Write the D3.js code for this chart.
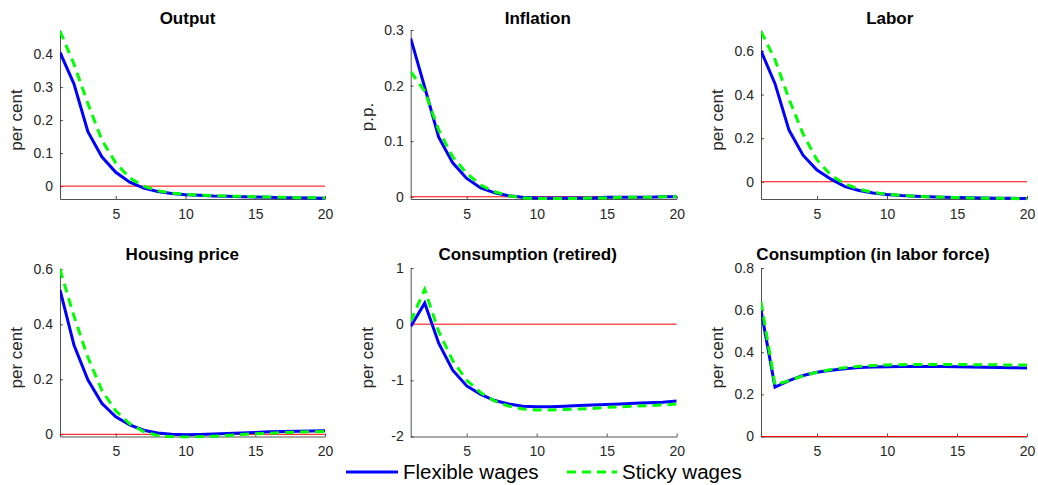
<!DOCTYPE html>
<html>
<head>
<meta charset="utf-8">
<script src="https://cdn.jsdelivr.net/npm/d3@7"></script>
<style>
  body { margin: 0; background: #fff; }
  text { font-family: "Liberation Sans", Arial, sans-serif; }
</style>
</head>
<body>
<div id="chart"></div>
<script>
// periods on the x axis
const periods = [1, 2, 3, 4, 5, 6, 7, 8, 9, 10, 11, 12, 13, 14, 15, 16, 17, 18, 19, 20];
const xTicks = [5, 10, 15, 20];

const titles = ["Output", "Inflation", "Labor", "Housing price", "Consumption (retired)", "Consumption (in labor force)"];
const units = ["per cent", "p.p.", "per cent", "per cent", "per cent", "per cent"];
const seriesNames = ["Flexible wages", "Sticky wages"];

const outputFlex = [0.405, 0.31, 0.165, 0.089, 0.042, 0.012, -0.006, -0.016, -0.022, -0.026, -0.028, -0.03, -0.031, -0.032, -0.033, -0.034, -0.035, -0.035, -0.036, -0.037];
const outputSticky = [0.47, 0.37, 0.25, 0.14, 0.07, 0.025, 0.0, -0.014, -0.021, -0.025, -0.027, -0.029, -0.03, -0.031, -0.032, -0.033, -0.034, -0.035, -0.035, -0.036];

const inflationFlex = [0.285, 0.197, 0.107, 0.061, 0.033, 0.016, 0.007, 0.002, -0.001, -0.002, -0.002, -0.002, -0.002, -0.002, -0.001, -0.001, -0.001, -0.001, 0, 0];
const inflationSticky = [0.225, 0.19, 0.12, 0.072, 0.042, 0.021, 0.009, 0.002, -0.002, -0.003, -0.003, -0.003, -0.003, -0.002, -0.002, -0.001, -0.001, -0.001, 0, 0];

const laborFlex = [0.6, 0.45, 0.237, 0.122, 0.054, 0.012, -0.022, -0.04, -0.051, -0.058, -0.063, -0.066, -0.069, -0.071, -0.072, -0.073, -0.074, -0.075, -0.076, -0.077];
const laborSticky = [0.69, 0.56, 0.38, 0.22, 0.1, 0.03, -0.01, -0.034, -0.049, -0.057, -0.062, -0.066, -0.069, -0.071, -0.072, -0.074, -0.075, -0.076, -0.077, -0.078];

const housingFlex = [0.525, 0.325, 0.198, 0.113, 0.064, 0.034, 0.015, 0.005, 0.0, -0.002, -0.001, 0.001, 0.003, 0.005, 0.007, 0.009, 0.01, 0.011, 0.012, 0.013];
const housingSticky = [0.6, 0.43, 0.28, 0.16, 0.085, 0.038, 0.01, -0.004, -0.009, -0.01, -0.009, -0.007, -0.004, -0.001, 0.002, 0.004, 0.006, 0.008, 0.009, 0.01];

const retiredFlex = [-0.04, 0.375, -0.34, -0.82, -1.1, -1.25, -1.36, -1.42, -1.46, -1.47, -1.47, -1.46, -1.45, -1.44, -1.43, -1.42, -1.41, -1.4, -1.39, -1.37];
const retiredSticky = [0.05, 0.62, -0.13, -0.65, -1.0, -1.22, -1.37, -1.46, -1.51, -1.53, -1.53, -1.52, -1.51, -1.5, -1.48, -1.47, -1.46, -1.45, -1.44, -1.42];

const laborForceFlex = [0.6, 0.235, 0.265, 0.29, 0.305, 0.315, 0.322, 0.327, 0.33, 0.331, 0.332, 0.332, 0.332, 0.332, 0.331, 0.33, 0.329, 0.328, 0.327, 0.325];
const laborForceSticky = [0.64, 0.245, 0.265, 0.288, 0.305, 0.318, 0.327, 0.333, 0.337, 0.34, 0.341, 0.342, 0.342, 0.342, 0.342, 0.341, 0.341, 0.34, 0.34, 0.34];

const yDomains = [[-0.039, 0.473], [-0.004, 0.3], [-0.079, 0.696], [-0.008, 0.605], [-2, 1], [0, 0.8]];
const yTicks = [
    [0, 0.1, 0.2, 0.3, 0.4],
    [0, 0.1, 0.2, 0.3],
    [0, 0.2, 0.4, 0.6],
    [0, 0.2, 0.4, 0.6],
    [-2, -1, 0, 1],
    [0, 0.2, 0.4, 0.6, 0.8]
];

const flexSeries = [outputFlex, inflationFlex, laborFlex, housingFlex, retiredFlex, laborForceFlex];
const stickySeries = [outputSticky, inflationSticky, laborSticky, housingSticky, retiredSticky, laborForceSticky];

const width = 1038, height = 485;
const colX = [[60, 325], [410.7, 676.7], [761, 1027]];
const rowY = [[30, 199], [268, 436.5]];
const axisColor = "#262626";

const svg = d3.select("#chart")
    .append("svg")
    .attr("width", width)
    .attr("height", height);

const line = (x, y) => d3.line()
    .x((d, i) => x(periods[i]))
    .y(d => y(d));

// the original's centred texts sit a little towards their start
const nudge = sel => sel.attr("dx", function () { return -0.09 * this.getComputedTextLength(); });

titles.forEach((title, k) => {
    const col = k % 3, row = Math.floor(k / 3);
    const [x0, x1] = colX[col], [y0, y1] = rowY[row];

    const x = d3.scaleLinear().domain([1, 20]).range([x0, x1]);
    const y = d3.scaleLinear().domain(yDomains[k]).range([y1, y0]);

    const g = svg.append("g");

    g.append("clipPath")
        .attr("id", "clip" + k)
        .append("rect")
        .attr("x", x0).attr("y", y0 - 2)
        .attr("width", x1 - x0).attr("height", y1 - y0 + 4);

    // x axis
    const xa = g.append("g")
        .attr("transform", "translate(0," + y1 + ")")
        .call(d3.axisBottom(x).tickValues(xTicks).tickSizeInner(-3).tickSizeOuter(0).tickPadding(10));
    // y axis
    const ya = g.append("g")
        .attr("transform", "translate(" + x0 + ",0)")
        .call(d3.axisLeft(y).tickValues(yTicks[k]).tickFormat(d => String(d)).tickSizeInner(-3).tickSizeOuter(0).tickPadding(7));

    [xa, ya].forEach(a => {
        a.select(".domain").attr("stroke", axisColor).attr("stroke-width", 0.8);
        a.selectAll(".tick line").attr("stroke", axisColor).attr("stroke-width", 0.8);
        a.selectAll("text").attr("fill", axisColor).style("font-size", "14px");
    });

    // zero line
    g.append("line")
        .attr("x1", x0).attr("x2", x1)
        .attr("y1", y(0)).attr("y2", y(0))
        .attr("stroke", "#ff0000")
        .attr("stroke-width", 1);

    const lines = g.append("g").attr("clip-path", "url(#clip" + k + ")");

    lines.append("path")
        .datum(flexSeries[k])
        .attr("d", line(x, y))
        .attr("fill", "none")
        .attr("stroke", "#0000ff")
        .attr("stroke-width", 3);

    lines.append("path")
        .datum(stickySeries[k])
        .attr("d", line(x, y))
        .attr("fill", "none")
        .attr("stroke", "#00ff00")
        .attr("stroke-width", 3)
        .attr("stroke-dasharray", "9,6");

    g.append("text")
        .attr("x", (x0 + x1) / 2)
        .attr("y", row === 0 ? 23.5 : 260)
        .attr("text-anchor", "middle")
        .style("font-size", "17px")
        .style("font-weight", "bold")
        .text(title)
        .call(nudge);

    g.append("text")
        .attr("transform", "translate(" + (x0 - 38) + "," + ((y0 + y1) / 2) + ")rotate(-90)")
        .attr("text-anchor", "middle")
        .style("font-size", "17px")
        .attr("fill", axisColor)
        .text(units[k])
        .call(nudge);
});

// legend
const legend = svg.append("g");
legend.append("line")
    .attr("x1", 346).attr("x2", 398).attr("y1", 472).attr("y2", 472)
    .attr("stroke", "#0000ff").attr("stroke-width", 3);
legend.append("text")
    .attr("x", 403).attr("y", 479)
    .style("font-size", "20.5px")
    .text(seriesNames[0]);
legend.append("line")
    .attr("x1", 567).attr("x2", 617).attr("y1", 472).attr("y2", 472)
    .attr("stroke", "#00ff00").attr("stroke-width", 3)
    .attr("stroke-dasharray", "9,6");
legend.append("text")
    .attr("x", 622).attr("y", 479)
    .style("font-size", "20.5px")
    .text(seriesNames[1]);
</script>
</body>
</html>
